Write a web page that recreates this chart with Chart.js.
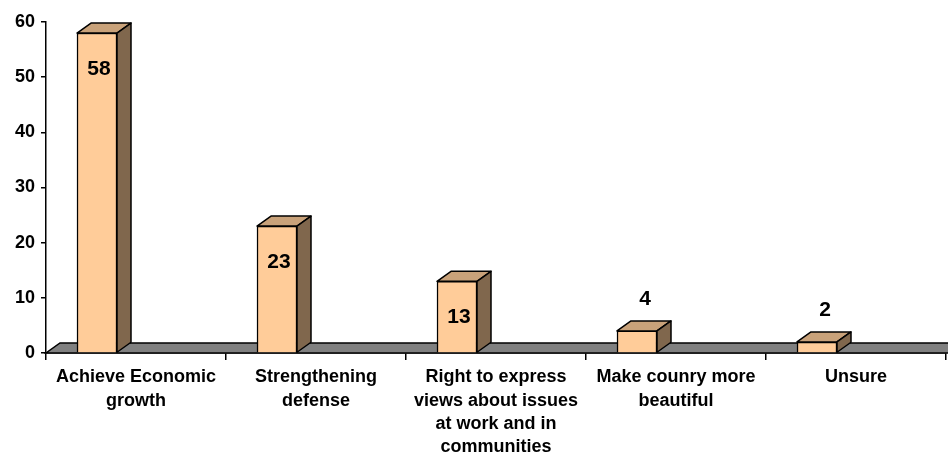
<!DOCTYPE html>
<html>
<head>
<meta charset="utf-8">
<script src="https://cdn.jsdelivr.net/npm/chart.js@4"></script>
<style>
  html, body { margin: 0; padding: 0; background: #fff; }
  #chart { display: block; }
</style>
</head>
<body>
<canvas id="chart" width="948" height="454"></canvas>
<script>
// categories and values
const categories = [
  ['Achieve Economic', 'growth'],
  ['Strengthening', 'defense'],
  ['Right to express', 'views about issues', 'at work and in', 'communities'],
  ['Make counry more', 'beautiful'],
  ['Unsure']
];
const values = [58, 23, 13, 4, 2];
const yTicks = [0, 10, 20, 30, 40, 50, 60];

// 3D look
const DX = 14, DY = 10, SHIFT = 39;
const FRONT = '#FFCC99', TOP = '#C9A27A', SIDE = '#80674D', FLOOR = '#808080';
const FONT = '"Liberation Sans", Arial, sans-serif';

const threeD = {
  id: 'threeD',
  afterDatasetsUpdate(chart) {
    // excel puts the box left of the category centre
    chart.getDatasetMeta(0).data.forEach(el => { el.x -= SHIFT; });
  },
  beforeDatasetsDraw(chart) {
    const { ctx, chartArea } = chart;
    const y0 = chart.scales.y.getPixelForValue(0);
    ctx.save();
    ctx.beginPath();
    ctx.moveTo(chartArea.left, y0);
    ctx.lineTo(chart.width + 2, y0);
    ctx.lineTo(chart.width + 2, y0 - DY);
    ctx.lineTo(chartArea.left + DX, y0 - DY);
    ctx.closePath();
    ctx.fillStyle = FLOOR;
    ctx.fill();
    ctx.lineWidth = 1.5;
    ctx.strokeStyle = '#000';
    ctx.stroke();
    ctx.restore();
  },
  afterDatasetsDraw(chart) {
    const { ctx } = chart;
    const meta = chart.getDatasetMeta(0);
    ctx.save();
    ctx.lineWidth = 1.5;
    ctx.strokeStyle = '#000';
    ctx.lineJoin = 'round';
    meta.data.forEach((el, i) => {
      const l = el.x - el.width / 2, r = el.x + el.width / 2;
      const t = el.y, b = el.base;
      // top
      ctx.beginPath();
      ctx.moveTo(l, t);
      ctx.lineTo(l + DX, t - DY);
      ctx.lineTo(r + DX, t - DY);
      ctx.lineTo(r, t);
      ctx.closePath();
      ctx.fillStyle = TOP;
      ctx.fill();
      ctx.stroke();
      // side
      ctx.beginPath();
      ctx.moveTo(r, t);
      ctx.lineTo(r + DX, t - DY);
      ctx.lineTo(r + DX, b - DY);
      ctx.lineTo(r, b);
      ctx.closePath();
      ctx.fillStyle = SIDE;
      ctx.fill();
      ctx.stroke();
      // value label
      ctx.fillStyle = '#000';
      ctx.font = 'bold 21px ' + FONT;
      ctx.textAlign = 'center';
      ctx.textBaseline = 'middle';
      if (values[i] >= 10) {
        ctx.fillText(values[i], el.x + 2, t + 36);
      } else {
        ctx.fillText(values[i], el.x + 8, t - 32);
      }
    });
    ctx.restore();
  }
};

new Chart(document.getElementById('chart'), {
  type: 'bar',
  data: {
    labels: categories,
    datasets: [{
      data: values,
      backgroundColor: FRONT,
      borderColor: '#000',
      borderWidth: 1.5,
      barThickness: 40
    }]
  },
  options: {
    responsive: false,
    devicePixelRatio: 1,
    animation: false,
    layout: { padding: { top: 22, right: 2, left: 0, bottom: 0 } },
    plugins: {
      legend: { display: false },
      tooltip: { enabled: false }
    },
    scales: {
      x: {
        grid: { drawOnChartArea: false, drawTicks: true, tickLength: 7, color: '#000', lineWidth: 1.5 },
        border: { display: true, color: '#000', width: 1.5 },
        ticks: {
          color: '#000',
          maxRotation: 0,
          autoSkip: false,
          padding: 6,
          font: { family: FONT, size: 18, weight: 'bold', lineHeight: 1.28 }
        },
        afterFit(scale) { scale.height = 101; }
      },
      y: {
        min: 0,
        max: 60,
        afterBuildTicks(scale) { scale.ticks = yTicks.map(v => ({ value: v })); },
        grid: { drawOnChartArea: false, drawTicks: true, tickLength: 5, color: '#000', lineWidth: 1.5 },
        border: { display: true, color: '#000', width: 1.5 },
        ticks: {
          color: '#000',
          padding: 6,
          font: { family: FONT, size: 18, weight: 'bold' }
        },
        afterFit(scale) { scale.width = 46; }
      }
    }
  },
  plugins: [threeD]
});
</script>
</body>
</html>
